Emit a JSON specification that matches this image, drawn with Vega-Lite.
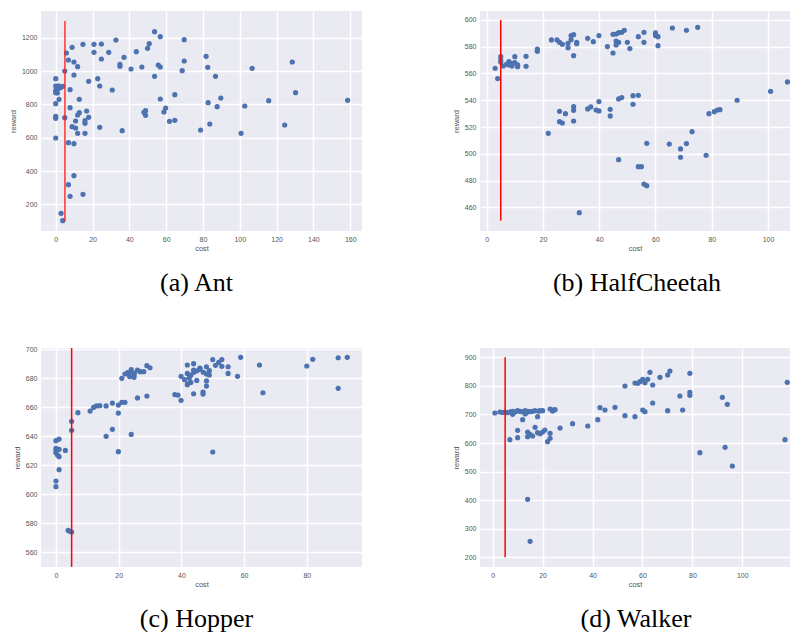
{
  "$schema": "https://vega.github.io/schema/vega-lite/v6.json",
  "padding": {"left": 9, "top": 11, "right": 0, "bottom": 0},
  "background": "white",
  "bounds": "flush",
  "columns": 2,
  "spacing": {"row": 117, "column": 118},
  "datasets": {
    "ant": [
      {"cost":158.6,"reward":824},{"cost":128.5,"reward":1054},{"cost":130.3,"reward":870},{"cost":124.4,"reward":676},{"cost":115.7,"reward":822},{"cost":106.7,"reward":1016},{"cost":102.7,"reward":790},{"cost":100.7,"reward":626},{"cost":89.7,"reward":838},{"cost":87.7,"reward":786},{"cost":86.8,"reward":968},{"cost":83.7,"reward":682},{"cost":82.8,"reward":810},{"cost":82.6,"reward":1022},{"cost":81.7,"reward":1088},{"cost":78.7,"reward":646},{"cost":69.8,"reward":1188},{"cost":69.8,"reward":1060},{"cost":68.7,"reward":1002},{"cost":64.7,"reward":858},{"cost":64.7,"reward":704},{"cost":61.8,"reward":698},{"cost":59.7,"reward":778},{"cost":58.8,"reward":754},{"cost":56.8,"reward":832},{"cost":56.8,"reward":1206},{"cost":53.7,"reward":1236},{"cost":53.7,"reward":968},{"cost":56.8,"reward":1024},{"cost":55.7,"reward":1036},{"cost":50.8,"reward":1164},{"cost":49.9,"reward":1136},{"cost":48.8,"reward":734},{"cost":48.8,"reward":762},{"cost":47.9,"reward":752},{"cost":46.8,"reward":1024},{"cost":43.8,"reward":1116},{"cost":40.9,"reward":1012},{"cost":37.1,"reward":1082},{"cost":36.1,"reward":642},{"cost":34.9,"reward":1028},{"cost":34.9,"reward":1040},{"cost":32.7,"reward":1186},{"cost":30.7,"reward":886},{"cost":28.8,"reward":1112},{"cost":24.8,"reward":1072},{"cost":24.8,"reward":1162},{"cost":23.9,"reward":910},{"cost":23.9,"reward":662},{"cost":22.8,"reward":954},{"cost":20.8,"reward":1112},{"cost":20.8,"reward":1160},{"cost":17.9,"reward":938},{"cost":17.9,"reward":722},{"cost":16.8,"reward":760},{"cost":15.9,"reward":686},{"cost":15.9,"reward":702},{"cost":15.9,"reward":626},{"cost":14.8,"reward":1160},{"cost":14.8,"reward":260},{"cost":12.8,"reward":830},{"cost":12.8,"reward":750},{"cost":11.9,"reward":736},{"cost":11.9,"reward":1026},{"cost":11.9,"reward":626},{"cost":10.8,"reward":700},{"cost":10.8,"reward":658},{"cost":9.9,"reward":1054},{"cost":9.9,"reward":976},{"cost":9.9,"reward":564},{"cost":9.9,"reward":372},{"cost":8.9,"reward":1142},{"cost":8.9,"reward":666},{"cost":7.8,"reward":780},{"cost":7.8,"reward":888},{"cost":7.8,"reward":248},{"cost":6.9,"reward":1066},{"cost":6.9,"reward":570},{"cost":6.9,"reward":318},{"cost":5.8,"reward":1108},{"cost":4.9,"reward":1000},{"cost":4.9,"reward":720},{"cost":3.8,"reward":908},{"cost":3.8,"reward":102},{"cost":2.9,"reward":146},{"cost":2.9,"reward":902},{"cost":1.8,"reward":830},{"cost":1.8,"reward":910},{"cost":0.9,"reward":868},{"cost":0,"reward":954},{"cost":0,"reward":910},{"cost":0,"reward":884},{"cost":0,"reward":870},{"cost":0,"reward":804},{"cost":0,"reward":728},{"cost":0,"reward":716},{"cost":0,"reward":598},{"cost":1.8,"reward":896},{"cost":0.9,"reward":910}
    ],
    "cheetah": [
      {"cost":3.0,"reward":563.9},{"cost":3.9,"reward":556.2},{"cost":5.0,"reward":572.6},{"cost":5.0,"reward":570.1},{"cost":5.0,"reward":568.6},{"cost":5.9,"reward":565.6},{"cost":7.0,"reward":566.9},{"cost":7.9,"reward":568.9},{"cost":7.9,"reward":566.4},{"cost":9.0,"reward":565.6},{"cost":9.0,"reward":567.6},{"cost":10.0,"reward":572.6},{"cost":10.0,"reward":568.1},{"cost":11.0,"reward":566.4},{"cost":11.0,"reward":565.1},{"cost":14.0,"reward":572.8},{"cost":14.0,"reward":565.4},{"cost":18.0,"reward":578.3},{"cost":18.0,"reward":576.6},{"cost":21.9,"reward":515.3},{"cost":23.0,"reward":585.1},{"cost":25.0,"reward":585.1},{"cost":25.9,"reward":583.3},{"cost":26.9,"reward":581.8},{"cost":25.9,"reward":531.7},{"cost":25.9,"reward":524.0},{"cost":26.9,"reward":523.0},{"cost":28.0,"reward":530.0},{"cost":28.9,"reward":579.3},{"cost":28.9,"reward":582.6},{"cost":30.0,"reward":588.3},{"cost":30.0,"reward":585.3},{"cost":30.9,"reward":589.0},{"cost":30.9,"reward":573.3},{"cost":30.9,"reward":535.2},{"cost":30.9,"reward":532.5},{"cost":30.9,"reward":524.5},{"cost":32.0,"reward":583.3},{"cost":32.0,"reward":582.3},{"cost":32.9,"reward":456.0},{"cost":35.9,"reward":586.3},{"cost":35.9,"reward":533.5},{"cost":37.0,"reward":535.0},{"cost":37.9,"reward":583.8},{"cost":38.9,"reward":532.7},{"cost":39.9,"reward":588.3},{"cost":39.9,"reward":539.0},{"cost":39.9,"reward":532.0},{"cost":42.9,"reward":580.1},{"cost":43.9,"reward":533.2},{"cost":43.9,"reward":528.3},{"cost":44.9,"reward":589.3},{"cost":44.9,"reward":575.3},{"cost":46.0,"reward":589.5},{"cost":46.0,"reward":584.3},{"cost":46.0,"reward":581.3},{"cost":46.9,"reward":590.5},{"cost":46.9,"reward":583.3},{"cost":46.9,"reward":541.0},{"cost":46.9,"reward":495.6},{"cost":48.0,"reward":590.8},{"cost":48.0,"reward":542.0},{"cost":48.9,"reward":592.3},{"cost":50.0,"reward":583.3},{"cost":50.9,"reward":578.6},{"cost":52.0,"reward":543.4},{"cost":52.0,"reward":537.0},{"cost":53.9,"reward":587.5},{"cost":53.9,"reward":543.7},{"cost":53.9,"reward":490.4},{"cost":55.0,"reward":490.4},{"cost":55.9,"reward":590.8},{"cost":55.9,"reward":583.3},{"cost":55.9,"reward":477.4},{"cost":56.9,"reward":476.2},{"cost":56.9,"reward":507.8},{"cost":60.0,"reward":590.3},{"cost":60.0,"reward":588.3},{"cost":60.9,"reward":587.5},{"cost":60.9,"reward":580.8},{"cost":64.9,"reward":507.3},{"cost":66.0,"reward":594.0},{"cost":68.9,"reward":503.6},{"cost":68.9,"reward":497.4},{"cost":71.0,"reward":592.3},{"cost":71.0,"reward":507.6},{"cost":73.0,"reward":516.5},{"cost":75.0,"reward":594.5},{"cost":78.0,"reward":498.9},{"cost":79.0,"reward":530.0},{"cost":80.9,"reward":531.5},{"cost":82.0,"reward":532.7},{"cost":82.9,"reward":533.0},{"cost":89.0,"reward":540.0},{"cost":100.9,"reward":546.7},{"cost":106.9,"reward":553.7}
    ],
    "hopper": [
      {"cost":0,"reward":636.9},{"cost":0,"reward":631.6},{"cost":0,"reward":630.0},{"cost":0,"reward":628.6},{"cost":0,"reward":609.1},{"cost":0,"reward":605.2},{"cost":1.0,"reward":638.0},{"cost":1.0,"reward":630.9},{"cost":1.0,"reward":625.9},{"cost":1.0,"reward":616.9},{"cost":0.5,"reward":627},{"cost":3.0,"reward":630.2},{"cost":3.9,"reward":575.1},{"cost":4.4,"reward":574.5},{"cost":5.0,"reward":574.0},{"cost":5.0,"reward":650.2},{"cost":5.0,"reward":644.0},{"cost":7.0,"reward":656.2},{"cost":10.9,"reward":657.3},{"cost":12.0,"reward":659.8},{"cost":12.9,"reward":660.8},{"cost":14.0,"reward":661.0},{"cost":16.0,"reward":660.8},{"cost":16.0,"reward":639.9},{"cost":18.0,"reward":662.8},{"cost":18.0,"reward":644.7},{"cost":19.9,"reward":661.4},{"cost":19.9,"reward":655.9},{"cost":19.9,"reward":629.3},{"cost":21.0,"reward":679.8},{"cost":21.0,"reward":663.3},{"cost":22.0,"reward":663.3},{"cost":22.0,"reward":682.8},{"cost":22.9,"reward":683.7},{"cost":24.0,"reward":684.4},{"cost":24.0,"reward":685.8},{"cost":24.0,"reward":641.2},{"cost":24.9,"reward":680.5},{"cost":24.9,"reward":682.1},{"cost":26.0,"reward":666.3},{"cost":26.0,"reward":685.5},{"cost":26.9,"reward":684.4},{"cost":28.0,"reward":684.4},{"cost":29.0,"reward":688.5},{"cost":29.0,"reward":667.6},{"cost":30.0,"reward":687.1},{"cost":23.0,"reward":683},{"cost":23.5,"reward":681},{"cost":25.0,"reward":683.5},{"cost":37.9,"reward":668.6},{"cost":38.9,"reward":668.3},{"cost":39.9,"reward":664.7},{"cost":39.9,"reward":681.2},{"cost":41.0,"reward":678.9},{"cost":41.9,"reward":689.0},{"cost":41.9,"reward":683.2},{"cost":41.9,"reward":675.4},{"cost":43.0,"reward":677.0},{"cost":43.9,"reward":689.9},{"cost":43.9,"reward":669.2},{"cost":43.9,"reward":685.5},{"cost":44.9,"reward":678.4},{"cost":45.9,"reward":686.9},{"cost":46.9,"reward":670.4},{"cost":46.9,"reward":669.0},{"cost":48.0,"reward":687.8},{"cost":48.0,"reward":682.8},{"cost":48.0,"reward":678.0},{"cost":48.0,"reward":674.5},{"cost":48.9,"reward":685.1},{"cost":48.9,"reward":682.1},{"cost":50.0,"reward":692.7},{"cost":50.0,"reward":629.1},{"cost":50.9,"reward":688.8},{"cost":51.9,"reward":690.8},{"cost":52.9,"reward":692.7},{"cost":52.9,"reward":688.1},{"cost":54.9,"reward":687.8},{"cost":54.9,"reward":683.2},{"cost":57.9,"reward":681.2},{"cost":58.9,"reward":694.3},{"cost":64.9,"reward":689.0},{"cost":66.0,"reward":669.9},{"cost":80.0,"reward":688.3},{"cost":81.9,"reward":692.9},{"cost":90.0,"reward":694.0},{"cost":90.0,"reward":672.9},{"cost":92.9,"reward":694.3},{"cost":42.5,"reward":680},{"cost":43.0,"reward":682},{"cost":44.0,"reward":684},{"cost":45.0,"reward":685},{"cost":46.0,"reward":686},{"cost":42.0,"reward":676},{"cost":47.0,"reward":684}
    ],
    "walker": [
      {"cost":0.9,"reward":705.2},{"cost":2.9,"reward":708.7},{"cost":4.9,"reward":708.7},{"cost":6.0,"reward":706.3},{"cost":8.0,"reward":711.0},{"cost":8.0,"reward":700.5},{"cost":10.0,"reward":713.3},{"cost":10.9,"reward":711.0},{"cost":12.0,"reward":681.8},{"cost":13.0,"reward":713.3},{"cost":13.0,"reward":701.7},{"cost":14.0,"reward":711.0},{"cost":15.0,"reward":709.8},{"cost":17.0,"reward":713.3},{"cost":18.0,"reward":692.3},{"cost":19.0,"reward":713.3},{"cost":20.0,"reward":713.3},{"cost":4,"reward":707},{"cost":7,"reward":709},{"cost":9,"reward":709},{"cost":11.5,"reward":710},{"cost":13.5,"reward":706},{"cost":16,"reward":711},{"cost":18.5,"reward":712},{"cost":24,"reward":712},{"cost":6.9,"reward":611.8},{"cost":10.0,"reward":644.5},{"cost":10.0,"reward":618.8},{"cost":14.0,"reward":638.7},{"cost":14.0,"reward":622.3},{"cost":15.0,"reward":630.5},{"cost":16.0,"reward":624.7},{"cost":17.0,"reward":655.0},{"cost":18.0,"reward":636.3},{"cost":19.0,"reward":632.8},{"cost":20.0,"reward":638.7},{"cost":20.9,"reward":645.7},{"cost":22.0,"reward":604.8},{"cost":23.0,"reward":616.5},{"cost":23.0,"reward":634.0},{"cost":14.0,"reward":403.0},{"cost":15.0,"reward":256.0},{"cost":23.0,"reward":719.2},{"cost":24.0,"reward":715.7},{"cost":25.0,"reward":716.8},{"cost":27.0,"reward":652.7},{"cost":32.0,"reward":667.8},{"cost":38.1,"reward":659.7},{"cost":42.1,"reward":681.8},{"cost":43.0,"reward":723.8},{"cost":45.0,"reward":715.7},{"cost":49.0,"reward":725.0},{"cost":53.0,"reward":799.7},{"cost":53.0,"reward":695.8},{"cost":57.0,"reward":692.3},{"cost":57.0,"reward":810.2},{"cost":58.1,"reward":809.0},{"cost":59.0,"reward":814.8},{"cost":60.1,"reward":823.0},{"cost":60.1,"reward":715.7},{"cost":61.0,"reward":811.3},{"cost":61.0,"reward":709.8},{"cost":62.1,"reward":823.0},{"cost":63.0,"reward":847.5},{"cost":64.1,"reward":803.2},{"cost":64.1,"reward":740.2},{"cost":67.0,"reward":830.0},{"cost":70.1,"reward":838.2},{"cost":70.1,"reward":713.3},{"cost":71.0,"reward":852.2},{"cost":75.0,"reward":764.7},{"cost":76.1,"reward":715.7},{"cost":79.0,"reward":844.0},{"cost":79.0,"reward":777.5},{"cost":79.0,"reward":767.0},{"cost":83.0,"reward":566.3},{"cost":92.0,"reward":760.0},{"cost":93.1,"reward":585.0},{"cost":94.0,"reward":735.5},{"cost":96.0,"reward":519.7},{"cost":117.1,"reward":611.8},{"cost":118.0,"reward":812.5}
    ]
  },
  "config": {
    "view": {"fill": "#EAEAF2", "stroke": null},
    "axis": {
      "grid": true, "gridColor": "#ffffff", "gridOpacity": 1, "gridWidth": 1.5, "domain": false, "ticks": false, "tickCount": 30,
      "labelFont": "Liberation Sans", "labelFontSize": 7, "labelColor": "#555555", "labelPadding": 4, "labelOverlap": false, "format": "d",
      "titleFont": "Liberation Sans", "titleFontSize": 7.5, "titleFontWeight": "normal", "titleColor": "#555555"
    },
    "axisX": {"titlePadding": 2},
    "axisY": {"titlePadding": 4},
    "title": {"orient": "bottom", "font": "Liberation Serif", "fontSize": 26, "fontWeight": "normal", "color": "black", "anchor": "middle", "frame": "group", "offset": 18}
  },
  "concat": [
    {
      "title": {"text": "(a) Ant", "dx": -5},
      "width": 321, "height": 220,
      "layer": [
        {
          "data": {"name": "ant"},
          "mark": {"type": "circle", "size": 27, "color": "#4C72B0", "opacity": 1},
          "encoding": {
            "x": {"field": "cost", "type": "quantitative", "scale": {"domain": [-8, 166.4], "nice": false, "zero": false}, "axis": {"title": "cost", "tickCount": 30, "values": [0, 20, 40, 60, 80, 100, 120, 140, 160]}},
            "y": {"field": "reward", "type": "quantitative", "scale": {"domain": [40, 1360], "nice": false, "zero": false}, "axis": {"title": "reward", "tickCount": 30, "values": [200, 400, 600, 800, 1000, 1200]}}
          }
        },
        {
          "data": {"values": [{"cost": 5, "lo": 100, "hi": 1300}]},
          "mark": {"type": "rule", "color": "#ff2020", "strokeWidth": 1.6, "opacity": 0.85},
          "encoding": {
            "x": {"field": "cost", "type": "quantitative"},
            "y": {"field": "lo", "type": "quantitative"},
            "y2": {"field": "hi"}
          }
        }
      ]
    },
    {
      "title": {"text": "(b) HalfCheetah", "dx": 2},
      "width": 310, "height": 220,
      "layer": [
        {
          "data": {"name": "cheetah"},
          "mark": {"type": "circle", "size": 27, "color": "#4C72B0", "opacity": 1, "clip": true},
          "encoding": {
            "x": {"field": "cost", "type": "quantitative", "scale": {"domain": [-2.37, 107.8], "nice": false, "zero": false}, "axis": {"title": "cost", "tickCount": 30, "values": [0, 20, 40, 60, 80, 100]}},
            "y": {"field": "reward", "type": "quantitative", "scale": {"domain": [442.3, 606.7], "nice": false, "zero": false}, "axis": {"title": "reward", "tickCount": 30, "values": [460, 480, 500, 520, 540, 560, 580, 600]}}
          }
        },
        {
          "data": {"values": [{"cost": 5, "lo": 450, "hi": 600}]},
          "mark": {"type": "rule", "color": "red", "strokeWidth": 1.5},
          "encoding": {
            "x": {"field": "cost", "type": "quantitative"},
            "y": {"field": "lo", "type": "quantitative"},
            "y2": {"field": "hi"}
          }
        }
      ]
    },
    {
      "title": {"text": "(c) Hopper", "dx": -5},
      "width": 321, "height": 219,
      "layer": [
        {
          "data": {"name": "hopper"},
          "mark": {"type": "circle", "size": 27, "color": "#4C72B0", "opacity": 1},
          "encoding": {
            "x": {"field": "cost", "type": "quantitative", "scale": {"domain": [-4.77, 97.6], "nice": false, "zero": false}, "axis": {"title": "cost", "tickCount": 30, "values": [0, 20, 40, 60, 80]}},
            "y": {"field": "reward", "type": "quantitative", "scale": {"domain": [549.9, 700.7], "nice": false, "zero": false}, "axis": {"title": "reward", "tickCount": 30, "values": [560, 580, 600, 620, 640, 660, 680, 700]}}
          }
        },
        {
          "data": {"values": [{"cost": 5, "lo": 550, "hi": 700.7}]},
          "mark": {"type": "rule", "color": "red", "strokeWidth": 1.5},
          "encoding": {
            "x": {"field": "cost", "type": "quantitative"},
            "y": {"field": "lo", "type": "quantitative"},
            "y2": {"field": "hi"}
          }
        }
      ]
    },
    {
      "title": {"text": "(d) Walker", "dx": 1},
      "width": 310, "height": 219,
      "layer": [
        {
          "data": {"name": "walker"},
          "mark": {"type": "circle", "size": 27, "color": "#4C72B0", "opacity": 1, "clip": true},
          "encoding": {
            "x": {"field": "cost", "type": "quantitative", "scale": {"domain": [-5.07, 119.1], "nice": false, "zero": false}, "axis": {"title": "cost", "tickCount": 30, "values": [0, 20, 40, 60, 80, 100]}},
            "y": {"field": "reward", "type": "quantitative", "scale": {"domain": [166.2, 932.7], "nice": false, "zero": false}, "axis": {"title": "reward", "tickCount": 30, "values": [200, 300, 400, 500, 600, 700, 800, 900]}}
          }
        },
        {
          "data": {"values": [{"cost": 5, "lo": 200, "hi": 900}]},
          "mark": {"type": "rule", "color": "red", "strokeWidth": 1.5},
          "encoding": {
            "x": {"field": "cost", "type": "quantitative"},
            "y": {"field": "lo", "type": "quantitative"},
            "y2": {"field": "hi"}
          }
        }
      ]
    }
  ]
}
